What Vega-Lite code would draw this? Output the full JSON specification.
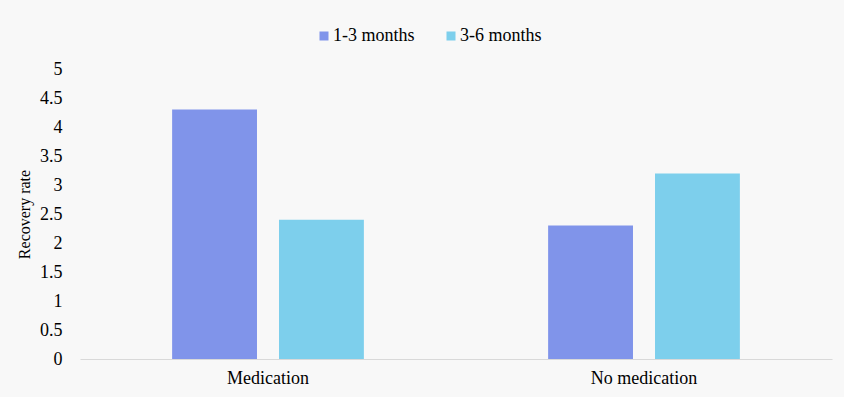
{
  "$schema": "https://vega.github.io/schema/vega-lite/v6.json",
  "autosize": {"type": "none"},
  "width": 752,
  "height": 290,
  "padding": {"left": 80, "top": 69, "right": 12, "bottom": 38},
  "background": "#f8f8f8",
  "config": {
    "font": "Liberation Serif",
    "view": {"stroke": null}
  },
  "data": {
    "values": [
      {"group": "Medication", "period": "1-3 months", "rate": 4.3},
      {"group": "Medication", "period": "3-6 months", "rate": 2.4},
      {"group": "No medication", "period": "1-3 months", "rate": 2.3},
      {"group": "No medication", "period": "3-6 months", "rate": 3.2}
    ]
  },
  "mark": {"type": "bar"},
  "encoding": {
    "x": {
      "field": "group",
      "type": "nominal",
      "sort": null,
      "scale": {"paddingInner": 0.49, "paddingOuter": 0.245},
      "axis": {
        "title": null,
        "labelAngle": 0,
        "labelFont": "Liberation Serif",
        "labelFontSize": 18,
        "labelColor": "#000000",
        "labelPadding": 10,
        "ticks": false,
        "domainColor": "#d9d9d9",
        "domainWidth": 1
      }
    },
    "xOffset": {
      "field": "period",
      "type": "nominal",
      "scale": {"paddingInner": 0.206, "paddingOuter": 0}
    },
    "y": {
      "field": "rate",
      "type": "quantitative",
      "scale": {"domain": [0, 5], "nice": false},
      "axis": {
        "title": "Recovery rate",
        "titleFont": "Liberation Serif",
        "titleFontSize": 16,
        "titleFontWeight": "normal",
        "titleColor": "#000000",
        "titlePadding": 7,
        "values": [0, 0.5, 1, 1.5, 2, 2.5, 3, 3.5, 4, 4.5, 5],
        "labelExpr": "datum.value + ''",
        "labelFont": "Liberation Serif",
        "labelFontSize": 18,
        "labelColor": "#000000",
        "labelPadding": 18,
        "ticks": false,
        "domain": false,
        "grid": false
      }
    },
    "color": {
      "field": "period",
      "type": "nominal",
      "scale": {"domain": ["1-3 months", "3-6 months"], "range": ["#8094ea", "#7dcfec"]},
      "legend": {
        "title": null,
        "orient": "none",
        "direction": "horizontal",
        "legendX": 235,
        "legendY": -42,
        "symbolType": "square",
        "symbolSize": 81,
        "symbolStrokeWidth": 0,
        "labelFont": "Liberation Serif",
        "labelFontSize": 18,
        "labelColor": "#000000",
        "labelOffset": 0,
        "columnPadding": 27
      }
    }
  }
}
